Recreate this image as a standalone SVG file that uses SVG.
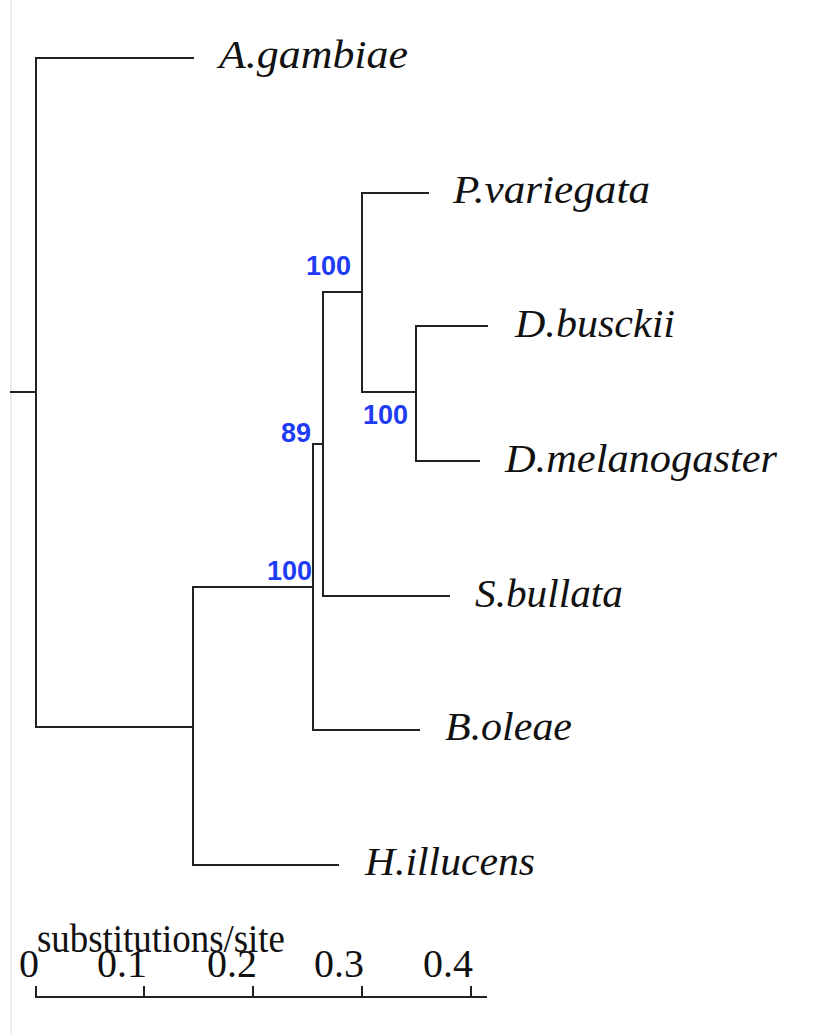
<svg xmlns="http://www.w3.org/2000/svg" width="820" height="1034" viewBox="0 0 820 1034">
<style>
.br{fill:none;stroke:#222;stroke-width:2;stroke-linecap:square}
.tx{font-family:"Liberation Serif","Times New Roman",serif;font-style:italic;font-size:39px;fill:#111}
.bs{font-family:"Liberation Sans",Arial,sans-serif;font-weight:bold;font-size:27px;fill:#1f3cf5;text-anchor:end}
.sc{font-family:"Liberation Serif","Times New Roman",serif;font-size:40px;fill:#111}
</style>
<rect width="820" height="1034" fill="#fff"/>
<line x1="11" y1="0" x2="11" y2="1034" stroke="#ddd" stroke-width="1"/>
<g id="connectors">
<path class="br" d="M11,392H36M36,58V727M36,58H193M36,727H193M193,587V865M193,865H338M193,587H313M313,444V730M313,730H419M313,444H323M323,292V596M323,596H449M323,292H362M362,193V392M362,193H428M362,392H416M416,326V461M416,326H487M416,461H479"/>
</g>
<g id="A_gambiae"><text class="tx" x="219" y="68" textLength="189" lengthAdjust="spacingAndGlyphs">A.gambiae</text></g>
<g id="P_variegata"><text class="tx" x="453" y="203" textLength="197" lengthAdjust="spacingAndGlyphs">P.variegata</text></g>
<g id="D_busckii"><text class="tx" x="515" y="337" textLength="160" lengthAdjust="spacingAndGlyphs">D.busckii</text></g>
<g id="D_melanogaster"><text class="tx" x="505" y="472" textLength="272" lengthAdjust="spacingAndGlyphs">D.melanogaster</text></g>
<g id="S_bullata"><text class="tx" x="475" y="607" textLength="148" lengthAdjust="spacingAndGlyphs">S.bullata</text></g>
<g id="B_oleae"><text class="tx" x="445" y="740" textLength="127" lengthAdjust="spacingAndGlyphs">B.oleae</text></g>
<g id="H_illucens"><text class="tx" x="365" y="875" textLength="170" lengthAdjust="spacingAndGlyphs">H.illucens</text></g>
<g id="support">
<text class="bs" x="351" y="275">100</text>
<text class="bs" x="408" y="424">100</text>
<text class="bs" x="311" y="442">89</text>
<text class="bs" x="312" y="580">100</text>
</g>
<g id="scale">
<text class="sc" x="37" y="952" font-size="38" textLength="248" lengthAdjust="spacingAndGlyphs">substitutions/site</text>
<g class="sc" text-anchor="end">
<text x="39" y="977">0</text>
<text x="147" y="977">0.1</text>
<text x="257" y="977">0.2</text>
<text x="364" y="977">0.3</text>
<text x="473" y="977">0.4</text>
</g>
<path class="br" d="M36,997H486M36,987V997M144,987V997M253,987V997M362,987V997M471,987V997"/>
</g>
</svg>
